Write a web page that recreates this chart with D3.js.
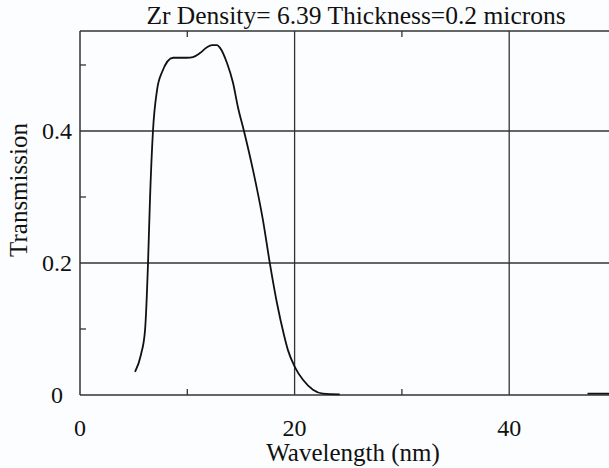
<!DOCTYPE html>
<html lang="en">
<head>
    <script src='https://d3js.org/d3.v7.min.js'></script>
    <style>
      body { margin: 0; background: #fcfdfe; }
    </style>
</head>
<body>
<script>
// Transmission curve (null = no line drawn)
var wavelength = [5.13, 5.68, 6.06, 6.34, 6.52, 6.80, 7.18, 7.64, 8.67, 9.32, 9.97, 10.53, 11.18, 11.84, 12.3, 12.77, 13.05, 13.70, 14.26, 14.72, 15.28, 16.12, 17.05, 17.71, 18.36, 19.01, 19.38, 20.04, 20.78, 21.71, 22.65, 24.2, 30, 47.3, 50];
var transmission = [0.035, 0.061, 0.098, 0.200, 0.295, 0.400, 0.462, 0.489, 0.511, 0.511, 0.511, 0.512, 0.518, 0.527, 0.530, 0.530, 0.526, 0.503, 0.473, 0.436, 0.400, 0.341, 0.265, 0.198, 0.139, 0.091, 0.068, 0.042, 0.023, 0.008, 0.002, 0.001, null, 0.002, 0.002];

var xTicks = [0, 20, 40];
var xMinor = [10, 30, 50];
var yTicks = [0, 0.2, 0.4];
var yMinor = [0.1, 0.3, 0.5];

var titleText = "Zr Density= 6.39 Thickness=0.2 microns";
var xTitle = "Wavelength (nm)";
var yTitle = "Transmission";

const width = 609, height = 468;
const mLeft = 80, mTop = 31, mBottom = 395;
const lineCol = "#333";
const serif = "Liberation Serif";

const svg = d3.select("body").append("svg")
  .attr("width", width).attr("height", height);

svg.append("rect").attr("width", width).attr("height", height).attr("fill", "#fcfdfe");

var x = d3.scaleLinear().domain([0, 50]).range([mLeft, mLeft + 50 * 10.73]);
var y = d3.scaleLinear().domain([0, 0.5515]).range([mBottom, mTop]);

// grid lines
svg.selectAll(".vgrid").data(xTicks.slice(1)).enter().append("line")
  .attr("x1", d => x(d)).attr("x2", d => x(d))
  .attr("y1", mTop).attr("y2", mBottom)
  .attr("stroke", lineCol).attr("stroke-width", 1.3);
svg.selectAll(".hgrid").data(yTicks.slice(1)).enter().append("line")
  .attr("x1", mLeft).attr("x2", width)
  .attr("y1", d => y(d)).attr("y2", d => y(d))
  .attr("stroke", lineCol).attr("stroke-width", 1.3);

// frame
svg.append("line").attr("x1", mLeft).attr("x2", mLeft).attr("y1", mTop).attr("y2", mBottom)
  .attr("stroke", lineCol).attr("stroke-width", 1.5);
svg.append("line").attr("x1", mLeft).attr("x2", width).attr("y1", mTop).attr("y2", mTop)
  .attr("stroke", lineCol).attr("stroke-width", 1.5);
svg.append("line").attr("x1", mLeft).attr("x2", width).attr("y1", mBottom).attr("y2", mBottom)
  .attr("stroke", lineCol).attr("stroke-width", 1.5);

// small inward ticks
xMinor.forEach(function(d) {
  svg.append("line").attr("x1", x(d)).attr("x2", x(d)).attr("y1", mBottom).attr("y2", mBottom - 6)
    .attr("stroke", lineCol).attr("stroke-width", 1.3);
  svg.append("line").attr("x1", x(d)).attr("x2", x(d)).attr("y1", mTop).attr("y2", mTop + 6)
    .attr("stroke", lineCol).attr("stroke-width", 1.3);
});
yMinor.forEach(function(d) {
  svg.append("line").attr("x1", mLeft).attr("x2", mLeft + 6).attr("y1", y(d)).attr("y2", y(d))
    .attr("stroke", lineCol).attr("stroke-width", 1.3);
});

// tick labels
svg.selectAll(".xl").data(xTicks).enter().append("text")
  .attr("x", d => x(d)).attr("y", 436)
  .attr("text-anchor", "middle").style("font", "24px " + serif).attr("fill", "#111")
  .text(d => d);
svg.selectAll(".yl").data(yTicks).enter().append("text")
  .attr("x", 57).attr("y", d => y(d)).attr("dy", "0.35em")
  .attr("text-anchor", "middle").style("font", "24px " + serif).attr("fill", "#111")
  .text(d => d === 0 ? "0" : d.toFixed(1));

// titles
svg.append("text").attr("x", 356).attr("y", 24).attr("text-anchor", "middle")
  .style("font", "25.5px " + serif).attr("fill", "#111").text(titleText);
svg.append("text").attr("x", 353).attr("y", 461).attr("text-anchor", "middle")
  .style("font", "25px " + serif).attr("fill", "#111").text(xTitle);
svg.append("text").attr("transform", "translate(27,190) rotate(-90)")
  .attr("text-anchor", "middle").style("font", "25px " + serif).attr("fill", "#111").text(yTitle);

// curve
var pts = wavelength.map((w, i) => [w, transmission[i]]);
var line = d3.line()
  .defined(d => d[1] !== null)
  .x(d => x(d[0])).y(d => y(d[1]))
  .curve(d3.curveMonotoneX);
svg.append("path").datum(pts)
  .attr("fill", "none").attr("stroke", "#111").attr("stroke-width", 1.8)
  .attr("d", line);
</script>
</body>
</html>
